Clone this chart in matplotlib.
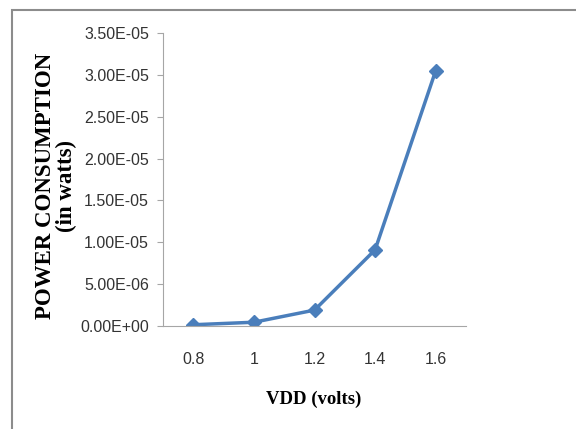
import matplotlib
matplotlib.use("Agg")
import matplotlib.pyplot as plt
from matplotlib.patches import Rectangle

vdd = ["0.8", "1", "1.2", "1.4", "1.6"]
power = [1.5e-7, 4.5e-7, 1.9e-6, 9.1e-6, 3.05e-5]
yticks = [0, 5e-6, 1e-5, 1.5e-5, 2e-5, 2.5e-5, 3e-5, 3.5e-5]
ytick_labels = ["0.00E+00", "5.00E-06", "1.00E-05", "1.50E-05",
                "2.00E-05", "2.50E-05", "3.00E-05", "3.50E-05"]

fig = plt.figure(figsize=(5.76, 4.29), dpi=100)
# outer chart border (gray)
fig.patches.append(Rectangle((12/576, -0.1), 1.2, 1 - 10/429 + 0.1,
                             transform=fig.transFigure, fill=False,
                             edgecolor="#8c8c8c", linewidth=1.5))

ax = fig.add_axes([163/576, 1 - 326/429, 303/576, 293/429])
x = list(range(len(vdd)))
ax.plot(x, power, color="#4A7EBB", linewidth=2.5, marker="D", markersize=7)

ax.set_xlim(-0.5, len(vdd) - 0.5)
ax.set_ylim(0, 3.5e-5)
ax.set_xticks(x)
ax.set_xticklabels(vdd)
ax.set_yticks(yticks)
ax.set_yticklabels(ytick_labels)

for lab in ax.get_xticklabels() + ax.get_yticklabels():
    lab.set_fontfamily("Liberation Sans")
    lab.set_fontsize(11.5)
    lab.set_color("#333333")

for s in ["top", "right"]:
    ax.spines[s].set_visible(False)
ax.spines["left"].set_color("#a6a6a6")
ax.spines["bottom"].set_color("#a6a6a6")
ax.tick_params(axis="y", length=4, color="#a6a6a6", pad=6)
ax.tick_params(axis="x", length=0, pad=19)

fig.text(56/576, 1 - 186/429, "POWER CONSUMPTION\n(in watts)", rotation=90,
         ha="center", va="center", fontsize=16.5, fontweight="bold",
         family="Liberation Serif", linespacing=0.95)
fig.text(314/576, 1 - 399/429, "VDD (volts)", ha="center", va="center",
         fontsize=13.5, fontweight="bold", family="Liberation Serif")

fig.savefig("out.png", dpi=100)
